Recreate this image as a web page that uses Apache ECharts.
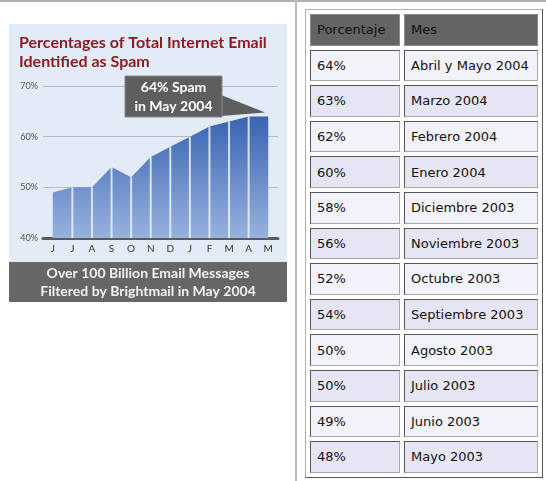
<!DOCTYPE html>
<html lang="es">
<head>
    <meta charset="UTF-8">
    <title>Spam</title>
    <script src="https://cdn.jsdelivr.net/npm/echarts@6/dist/echarts.min.js"></script>
    <style>
        body { margin: 0; background: #fff; width: 546px; height: 481px; overflow: hidden; position: relative; }
        #topline { position: absolute; left: 0; top: 0; width: 546px; height: 2px; background: #aab0b5; }
        #vline { position: absolute; left: 295px; top: 0; width: 2px; height: 481px; background: #b6bbbf; }
        #chart1 { position: absolute; left: 9px; top: 24px; width: 278px; height: 278px; }
        #tabla { position: absolute; left: 305px; top: 9px; width: 238px; border-collapse: separate; border-spacing: 4px;
                 border: 1px solid; border-color: #b0b0b0 #555 #555 #b0b0b0; font-family: "DejaVu Sans", Verdana, sans-serif; font-size: 13px; }
        #tabla td, #tabla th { box-sizing: border-box; height: 31.6px; padding: 0 0 0 6px; text-align: left; font-weight: normal;
                 border: 1px solid; border-color: #555 #a8a8a8 #a8a8a8 #555; color: #111; }
        #tabla th { background: #646464; border-color: #8c8c8c; }
        #tabla tr.a td { background: #f2f2fb; }
        #tabla tr.b td { background: #e5e5f4; }
    </style>
</head>
<body>
<div id="topline"></div>
<div id="vline"></div>
<div id="chart1"></div>
<table id="tabla">
    <thead><tr><th style="width:90px">Porcentaje</th><th>Mes</th></tr></thead>
    <tbody id="filas"></tbody>
</table>
<script type="text/javascript">

    // chart: June 2003 .. May 2004
    var meses = ['J', 'J', 'A', 'S', 'O', 'N', 'D', 'J', 'F', 'M', 'A', 'M'];
    var spam = [49, 50, 50, 54, 52, 56, 58, 60, 62, 63, 64, 64];
    var ejeY = [40, 50, 60, 70];

    // table rows
    var porcentajes = [64, 63, 62, 60, 58, 56, 52, 54, 50, 50, 49, 48];
    var mesesTabla = ['Abril y Mayo 2004', 'Marzo 2004', 'Febrero 2004', 'Enero 2004', 'Diciembre 2003',
        'Noviembre 2003', 'Octubre 2003', 'Septiembre 2003', 'Agosto 2003', 'Julio 2003', 'Junio 2003', 'Mayo 2003'];

    var html = '';
    for (var i = 0; i < porcentajes.length; i++) {
        html += '<tr class="' + (i % 2 ? 'b' : 'a') + '"><td>' + porcentajes[i] + '%</td><td>' + mesesTabla[i] + '</td></tr>';
    }
    document.getElementById('filas').innerHTML = html;

    var titleFont = 'Lato, "DejaVu Sans", sans-serif';
    var myChart1 = echarts.init(document.getElementById('chart1'));
    myChart1.setOption({
        animation: false,
        backgroundColor: '#e3ebf6',
        title: {
            text: 'Percentages of Total Internet Email\nIdentified as Spam',
            left: 5, top: 4,
            textStyle: { color: '#8b1c22', fontSize: 16, fontWeight: 'bold', fontFamily: titleFont, lineHeight: 19 }
        },
        grid: { left: 34, right: 9, top: 62, bottom: 64 },
        xAxis: {
            type: 'category',
            data: meses,
            axisLine: { lineStyle: { color: '#5a5a5a', width: 3 } },
            axisTick: { show: false },
            axisLabel: { color: '#333', fontSize: 10, margin: 6, fontFamily: titleFont }
        },
        yAxis: {
            type: 'value',
            min: ejeY[0], max: ejeY[ejeY.length - 1], interval: 10,
            axisLine: { show: false },
            axisTick: { show: false },
            axisLabel: { color: '#555', fontSize: 9, margin: 5, formatter: '{value}%', fontFamily: titleFont },
            splitLine: { lineStyle: { color: '#b4bcc6', width: 1 } }
        },
        series: [{
            name: 'Spam',
            type: 'line',
            data: spam,
            symbol: 'none',
            lineStyle: { width: 0 },
            areaStyle: {
                opacity: 1,
                color: {
                    type: 'linear', x: 0, y: 62, x2: 0, y2: 214, global: true,
                    colorStops: [{ offset: 0, color: '#2050a6' }, { offset: 1, color: '#98b2de' }]
                }
            },
            z: 2
        }, {
            type: 'bar',
            barWidth: 2,
            data: spam.map(function (v, i) {
                return { value: v, itemStyle: { opacity: (i === 0 || i === spam.length - 1) ? 0 : 1 } };
            }),
            itemStyle: { color: 'rgba(235,241,250,0.85)' },
            z: 3
        }]
    });

    var tip = myChart1.convertToPixel({ seriesIndex: 0 }, [spam.length - 1, spam[spam.length - 1]]);
    myChart1.setOption({
        graphic: [
            {
                type: 'polygon', z: 10,
                shape: { points: [[212, 71], [tip[0] - 3, tip[1] - 4], [212, 92]] },
                style: { fill: '#5e5e5e' }
            },
            {
                type: 'rect', z: 10,
                shape: { x: 116, y: 52, width: 97, height: 41 },
                style: { fill: '#5e5e5e', stroke: '#8a8a8a', lineWidth: 1 }
            },
            {
                type: 'text', z: 11, x: 164.5, y: 54,
                style: {
                    text: '64% Spam\nin May 2004', fill: '#fff', font: 'bold 14px ' + titleFont,
                    align: 'center', verticalAlign: 'top', lineHeight: 19
                }
            },
            {
                type: 'rect', z: 10,
                shape: { x: 0, y: 238, width: 278, height: 40 },
                style: { fill: '#666666' }
            },
            {
                type: 'text', z: 11, x: 139, y: 240,
                style: {
                    text: 'Over 100 Billion Email Messages\nFiltered by Brightmail in May 2004', fill: '#f2f2f2',
                    font: 'bold 14px ' + titleFont, align: 'center', verticalAlign: 'top', lineHeight: 18
                }
            }
        ]
    });

</script>
</body>
</html>
